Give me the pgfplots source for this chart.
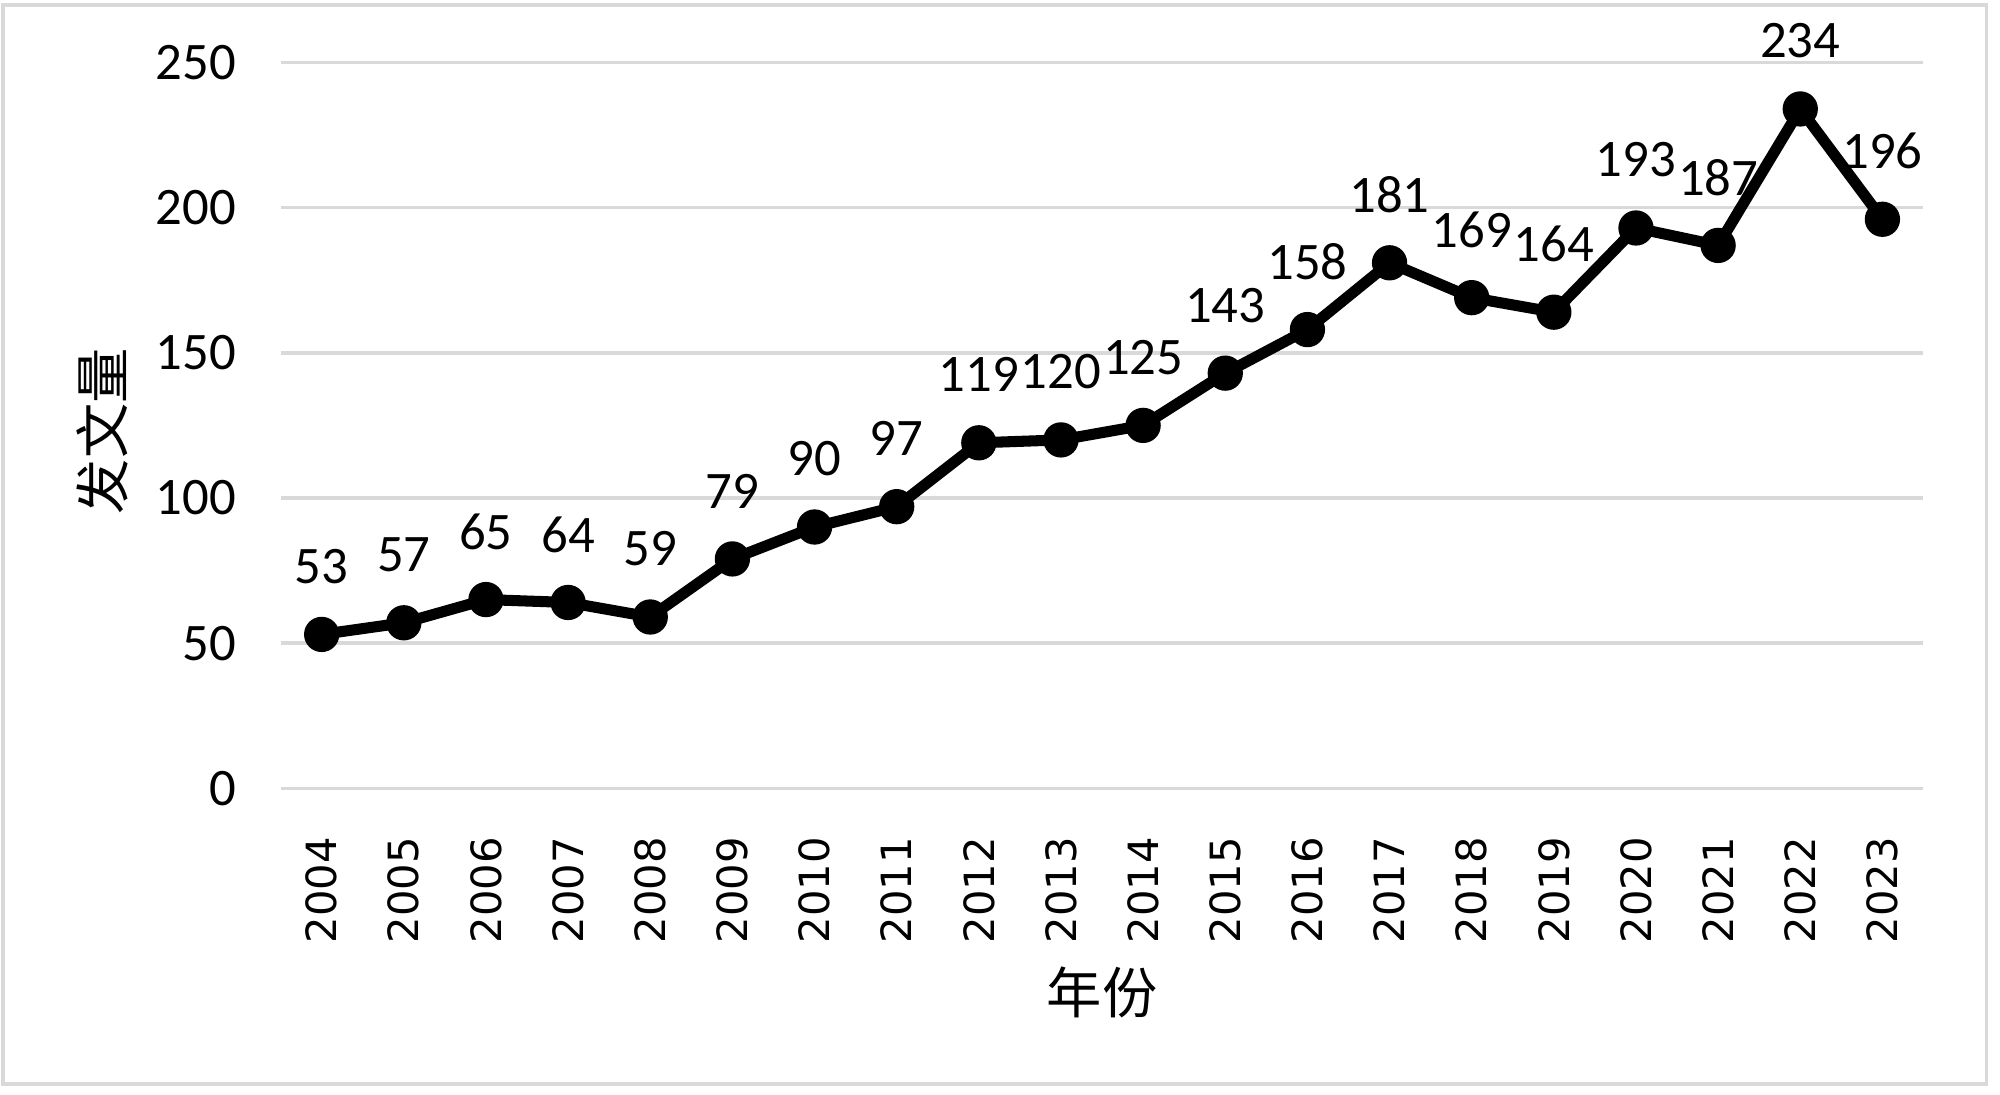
\documentclass[border=0pt]{standalone}
\usepackage{fontspec}
\setmainfont{Carlito}
\newfontfamily\dejavu{DejaVu Sans}
\newfontfamily\cjk{Noto Sans CJK SC}
\usepackage{pgfplots}
\pgfplotsset{compat=1.18}
\definecolor{gridgray}{HTML}{D9D9D9}
\begin{document}
\begin{tikzpicture}
\path (0,0) rectangle (470.4pt,257.4pt);
\draw[gridgray, line width=0.8pt] (0.7pt,2.4pt) rectangle (467.2pt,256.2pt);
\begin{axis}[
  at={(66pt,72pt)}, anchor=south west,
  scale only axis, width=386.4pt, height=170.7pt,
  xmin=2003.5, xmax=2023.5, ymin=0, ymax=250,
  xtick=data, ytick={0,50,100,150,200,250},
  /pgf/number format/1000 sep={},
  /pgf/number format/assume math mode=true,
  axis line style={draw=none},
  ymajorgrids, grid style={gridgray, line width=0.8pt},
  major tick length=0pt,
  yticklabel style={font=\fontsize{12.4}{14}\selectfont, anchor=east, xshift=-7pt},
  xticklabel={\fontsize{9.8}{11}\selectfont\dejavu\pgfmathprintnumber{\tick}},
  xticklabel style={rotate=90, anchor=east, xshift=-8pt},
  xlabel={\cjk 年份}, ylabel={\cjk 发文量},
  xlabel style={at={(axis description cs:0.5,-0.281)}, anchor=center, font=\fontsize{13}{15}\selectfont},
  ylabel style={at={(axis description cs:-0.1087,0.492)}, anchor=center, rotate=0, font=\fontsize{13}{15}\selectfont},
  nodes near coords,
  every node near coord/.append style={font=\fontsize{12.4}{14}\selectfont, anchor=center, yshift=16pt, text=black},
  clip=false,
]
\addplot[black, line width=2.6pt, mark=*, mark size=3.9pt, mark options={fill=black, line width=0.5pt}] coordinates {
(2004,53) (2005,57) (2006,65) (2007,64) (2008,59) (2009,79) (2010,90) (2011,97)
(2012,119) (2013,120) (2014,125) (2015,143) (2016,158) (2017,181) (2018,169)
(2019,164) (2020,193) (2021,187) (2022,234) (2023,196)};
\end{axis}
\end{tikzpicture}
\end{document}
